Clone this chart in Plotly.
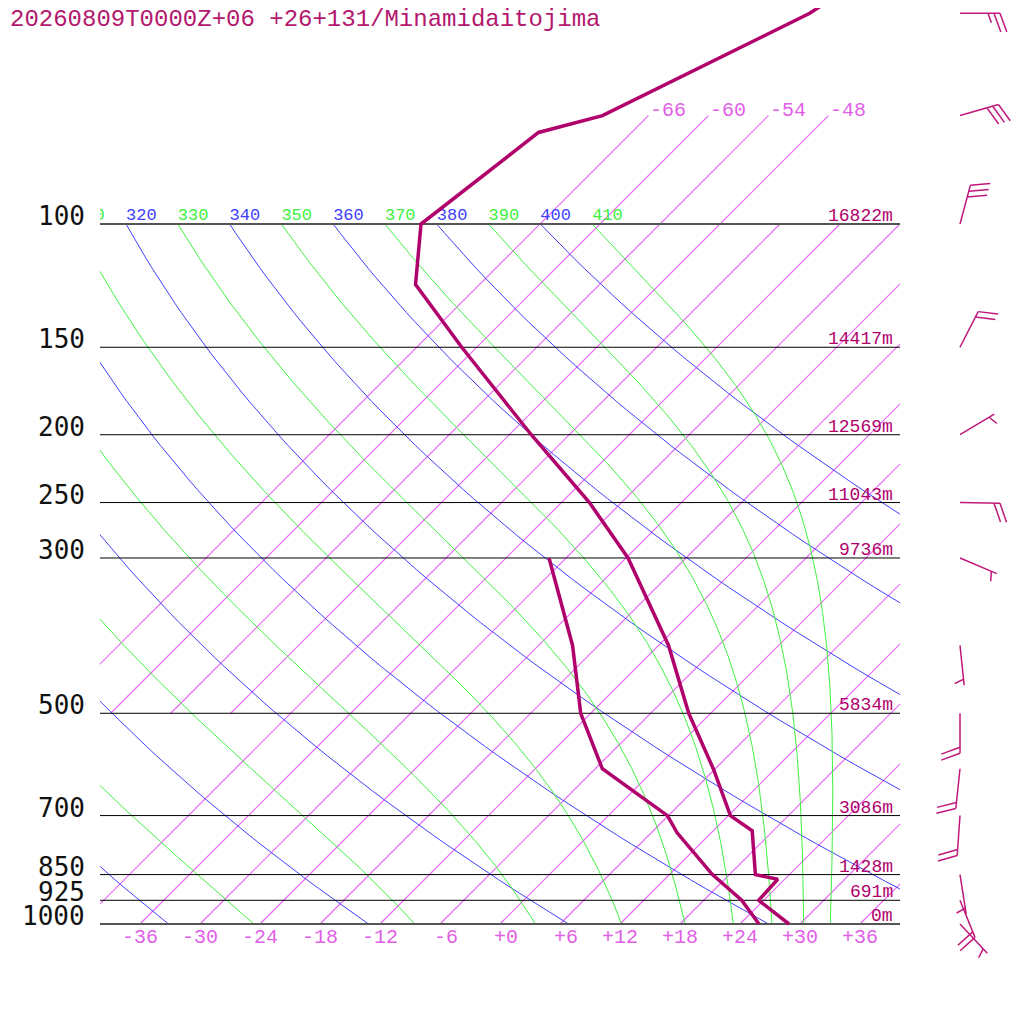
import numpy as np
import plotly.graph_objects as go

# --- данные зондирования ---
title = "20260809T0000Z+06 +26+131/Minamidaitojima"

p_levels = [100, 150, 200, 250, 300, 500, 700, 850, 925, 1000]
heights = ["16822m", "14417m", "12569m", "11043m", "9736m", "5834m", "3086m", "1428m", "691m", "0m"]

temp_p = [1000, 925, 863, 850, 736, 700, 600, 500, 400, 300, 250, 200, 150, 122, 100, 74, 70, 50, 30]
temp_t = [28.9, 23.5, 23.3, 20.6, 15.9, 12.2, 5.8, -2.2, -11.0, -23.8, -33.2, -45.8, -61.5, -72.4, -77.9, -75.3, -70.6, -60.1, -52.0]

dew_p = [1000, 925, 850, 741, 700, 600, 500, 400, 300]
dew_t = [25.9, 21.8, 16.3, 8.6, 5.9, -5.3, -13.0, -20.6, -31.7]

wind_p = [50, 70, 100, 150, 200, 250, 300, 400, 500, 600, 700, 850, 925, 1000]
wind_dir = [90, 74, 15, 27, 59, 91, 113, 174, 180, 186, 184, 171, 158, 137]
wind_kt = [25, 30, 30, 20, 5, 20, 5, 5, 20, 20, 20, 5, 20, 5]

# --- фон диаграммы ---
iso_low = list(range(-42, 37, 6))      # изотермы 1000..100 гПа
iso_high = [-66, -60, -54, -48]        # изотермы 500..70 гПа
iso_bottom_labels = list(range(-36, 37, 6))
theta_dry = list(range(240, 401, 20))  # сухие адиабаты (синие)
theta_moist = list(range(250, 411, 20))  # влажные адиабаты (зелёные)

SKEW = 70.0        # градусов на декаду давления
PX_DECADE = 700.0  # пикселей на декаду давления
KAPPA = 0.2857
OFF = 8            # отступ body в браузере

C_ISO = "rgb(232,100,245)"
C_DRY = "#4040ff"
C_MOIST = "#40f040"
C_PROF = "#b0006b"
C_LAB = "#e060e6"
MONO = "Liberation Mono"


def skew(t, p):
    return np.asarray(t, dtype=float) + SKEW * np.log10(1000.0 / np.asarray(p, dtype=float))


def moist_line(theta):
    Rd, Cp, Lv, eps = 287.04, 1005.7, 2.501e6, 0.622

    def dTdp(T, p):
        es = 6.112 * np.exp(17.67 * (T - 273.15) / (T - 29.65))
        rs = eps * es / (p - es)
        return (Rd * T + Lv * rs) / (p * (Cp + Lv * Lv * rs * eps / (Rd * T * T)))

    ps = np.linspace(100, 1000, 451)
    T = theta * 0.1 ** KAPPA
    out = [T]
    for i in range(len(ps) - 1):
        h = ps[i + 1] - ps[i]
        p = ps[i]
        k1 = dTdp(T, p)
        k2 = dTdp(T + h * k1 / 2, p + h / 2)
        k3 = dTdp(T + h * k2 / 2, p + h / 2)
        k4 = dTdp(T + h * k3, p + h)
        T = T + h * (k1 + 2 * k2 + 2 * k3 + k4) / 6
        out.append(T)
    return ps, np.array(out) - 273.15


fig = go.Figure()


def line(x, y, color, width, xa="x"):
    fig.add_trace(go.Scatter(x=list(x), y=list(y), mode="lines", xaxis=xa, yaxis="y",
                             line=dict(color=color, width=width), hoverinfo="skip"))


# изотермы: по нескольку точек на линию
ix, iy = [], []
for t, p0, p1 in [(t, 1000, 100) for t in iso_low] + [(t, 500, 70) for t in iso_high]:
    pl = np.geomspace(p0, p1, 12)
    ix += list(skew(np.full(pl.size, t), pl)) + [None]
    iy += list(pl) + [None]
line(ix, iy, C_ISO, 1.2)

# сухие адиабаты
pp = np.geomspace(1000, 100, 80)
for th in theta_dry:
    line(skew(th * (pp / 1000) ** KAPPA - 273.15, pp), pp, C_DRY, 1)

# влажные адиабаты
for th in theta_moist:
    ps, ts = moist_line(th)
    line(skew(ts, ps), ps, C_MOIST, 1)

# изобары
for p in p_levels:
    edge = p in (100, 1000)
    line([-40, 40], [p, p], "#555555" if edge else "#000000", 2 if edge else 1)

# подписи адиабат
for th_list, col in ((theta_dry, C_DRY), (theta_moist, C_MOIST)):
    xs = [float(skew(th * 0.1 ** KAPPA - 273.15, 100)) for th in th_list]
    fig.add_trace(go.Scatter(x=xs, y=[100] * len(xs), mode="text", text=[str(t) for t in th_list],
                             textposition="top right", textfont=dict(family=MONO, size=17, color=col),
                             cliponaxis=True, hoverinfo="skip"))

# профили
line(skew(temp_t, temp_p), temp_p, C_PROF, 3.5)
line(skew(dew_t, dew_p), dew_p, C_PROF, 3.5)

# ветер
bx, by = [], []
for p, d, s in zip(wind_p, wind_dir, wind_kt):
    a = np.radians(90 - d)
    ux, uy = np.cos(a), np.sin(a)
    bx += [0, 40 * ux, None]
    by += [p, p * 10 ** (-40 * uy / PX_DECADE), None]
    fa = a - np.radians(70)
    fx, fy = np.cos(fa), np.sin(fa)
    n_full, half = s // 10, s % 10 >= 5
    pos = 0 if n_full else 6
    feathers = [20] * n_full + ([10] if half else [])
    for ln in feathers:
        sx, sy = (40 - pos) * ux, (40 - pos) * uy
        bx += [sx, sx + ln * fx, None]
        by += [p * 10 ** (-sy / PX_DECADE), p * 10 ** (-(sy + ln * fy) / PX_DECADE), None]
        pos += 6
line(bx, by, "#c0187a", 1.5, xa="x2")

ann = []
for p in p_levels:
    ann.append(dict(x=-40, y=np.log10(p), xref="x", yref="y", text=str(p), showarrow=False,
                    xanchor="right", yanchor="middle", xshift=-13, yshift=8,
                    font=dict(family="DejaVu Sans Mono", size=26, color="#111111")))
for p, h in zip(p_levels, heights):
    ann.append(dict(x=40, y=np.log10(p), xref="x", yref="y", text=h, showarrow=False,
                    xanchor="right", yanchor="middle", xshift=-5, yshift=8,
                    font=dict(family=MONO, size=18, color=C_PROF)))
for t in iso_bottom_labels:
    s = "%+d" % t
    s = "\u00a0" * (3 - len(s)) + s
    ann.append(dict(x=t, y=3, xref="x", yref="y", text=s, showarrow=False,
                    xanchor="center", yanchor="middle", yshift=-13,
                    font=dict(family=MONO, size=20, color=C_LAB)))
for t in iso_high:
    ann.append(dict(x=float(skew(t, 70)), y=np.log10(70), xref="x", yref="y", text="%d" % t,
                    showarrow=False, xanchor="left", yanchor="middle", yshift=5,
                    font=dict(family=MONO, size=20, color=C_LAB)))
ann.append(dict(x=0, y=1 - 11 / 1024, xref="paper", yref="paper", text=title, showarrow=False,
                xanchor="left", yanchor="middle", font=dict(family=MONO, size=24, color="#b3176e")))

fig.update_layout(
    width=1024, height=1024,
    margin=dict(l=0, r=0, t=0, b=0),
    paper_bgcolor="white", plot_bgcolor="white",
    showlegend=False,
    xaxis=dict(domain=[(100 - OFF) / 1024, (900 - OFF) / 1024], range=[-40, 40], visible=False),
    xaxis2=dict(domain=[(900 - OFF) / 1024, (1024 - OFF) / 1024], range=[-60, 64], visible=False, anchor="y"),
    yaxis=dict(type="log", range=[3 + (100 + OFF) / PX_DECADE, 3 - (924 - OFF) / PX_DECADE], visible=False),
    annotations=ann,
)
fig.write_html("out.html")
